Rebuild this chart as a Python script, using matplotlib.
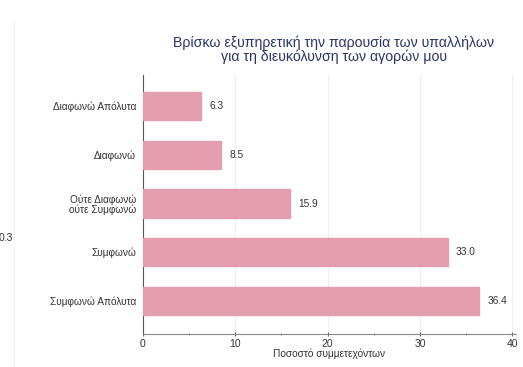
import matplotlib
matplotlib.use("Agg")
import matplotlib.pyplot as plt
from matplotlib.ticker import MultipleLocator

plt.rcParams["font.family"] = ["Liberation Sans", "DejaVu Sans"]

categories = ["Διαφωνώ Απόλυτα", "Διαφωνώ", "Ούτε Διαφωνώ\nούτε Συμφωνώ", "Συμφωνώ", "Συμφωνώ Απόλυτα"]
values = [6.3, 8.5, 15.9, 33.0, 36.4]
value_labels = ["6.3", "8.5", "15.9", "33.0", "36.4"]
xticks = [0, 10, 20, 30, 40]
title = "Βρίσκω εξυπηρετική την παρουσία των υπαλλήλων\nγια τη διευκόλυνση των αγορών μου"
xlabel = "Ποσοστό συμμετεχόντων"

W, H = 523, 367
fig = plt.figure(figsize=(W / 100, H / 100), dpi=100)
fig.patch.set_facecolor("white")

left, right, top, bottom = 143, 516, 75, 334
ax = fig.add_axes([left / W, 1 - bottom / H, (right - left) / W, (bottom - top) / H])

pos = list(range(len(categories)))
ax.barh(pos, values, height=0.58, color="#e59db0", edgecolor="#e59db0", zorder=3)
for p, v, s in zip(pos, values, value_labels):
    ax.text(v + 0.9, p, s, va="center", ha="left", fontsize=7.3, color="#333333")

ax.set_ylim(4.68, -0.64)
ax.set_xlim(0, 40.4)
ax.set_yticks(pos)
ax.set_yticklabels(categories, fontsize=7.3, color="#333333", multialignment="right",
                   linespacing=1.0)
ax.set_xticks(xticks)
ax.set_xticklabels([str(t) for t in xticks], fontsize=7.5, color="#333333")
ax.xaxis.set_minor_locator(MultipleLocator(5))
ax.tick_params(axis="y", length=0, pad=5)
ax.tick_params(axis="x", which="major", length=3, color="#666666", pad=2, direction="inout")
ax.tick_params(axis="x", which="minor", length=2, color="#666666", direction="inout")
ax.grid(axis="x", color="#eeeeee", linewidth=0.8, zorder=0)
for s in ["top", "right"]:
    ax.spines[s].set_visible(False)
ax.spines["left"].set_color("#555555")
ax.spines["left"].set_linewidth(0.8)
ax.spines["bottom"].set_color("#888888")
ax.spines["bottom"].set_linewidth(0.8)
ax.set_xlabel(xlabel, fontsize=7.3, color="#333333", labelpad=0)

fig.text(334 / W, 1 - 49.5 / H, title, ha="center", va="center", fontsize=10.2,
         color="#2a3566", linespacing=0.95)
fig.text(-1 / W, 1 - 238 / H, "0.3", ha="left", va="center", fontsize=7.5, color="#333333")
fig.add_artist(plt.Line2D([14 / W, 14 / W], [0, 1 - 20 / H], color="#f2f2f2", linewidth=0.8))

fig.savefig("out.png", dpi=100)
